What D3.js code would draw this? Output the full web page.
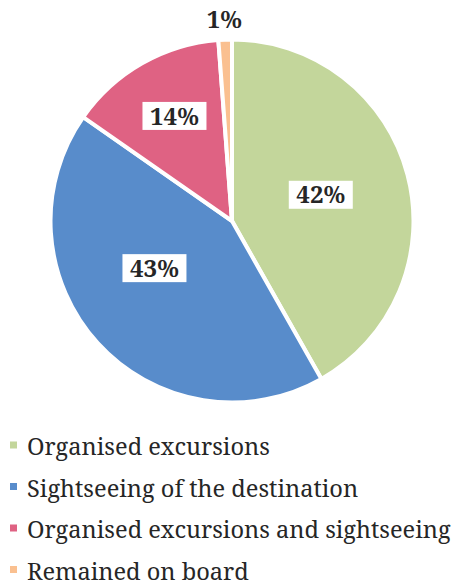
<!DOCTYPE html>
<html lang="en">
<head>
<meta charset="UTF-8">
<title>Shore activities pie</title>
<script src="https://d3js.org/d3.v7.min.js"></script>
<style>
  body { margin: 0; background: #fff; }
</style>
</head>
<body>
<div class="chart"></div>
<script>
// data
var categories = ["Organised excursions", "Sightseeing of the destination",
                  "Organised excursions and sightseeing", "Remained on board"];
var shares = [41.8, 42.9, 14.1, 1.2];
var labels = ["42%", "43%", "14%", "1%"];
var colours = ["#C3D69B", "#588CCB", "#DF6283", "#FAC090"];

var width = 457, height = 587;
var cx = 232, cy = 221, radius = 181.5;
var serif = "'Noto Serif'";

var svg = d3.select(".chart").append("svg")
    .attr("width", width)
    .attr("height", height);

var pie = d3.pie().sort(null).value(d => d);
var arcs = pie(shares);

var arc = d3.arc().innerRadius(0).outerRadius(radius);

var g = svg.append("g")
    .attr("transform", "translate(" + cx + "," + cy + ")");

g.selectAll("path")
    .data(arcs)
  .enter().append("path")
    .attr("d", arc)
    .style("fill", (d, i) => colours[i])
    .style("stroke", "#fff")
    .style("stroke-width", 4)
    .style("stroke-linejoin", "miter");

// label placement (fraction of radius, angle nudge in degrees) - like Excel's best fit
var place = [{r: 0.51, da: -1.7}, {r: 0.5, da: 11}, {r: 0.66, da: 1}, {r: 1.11, da: 0}];

var lab = g.selectAll(".lab")
    .data(arcs)
  .enter().append("g")
    .attr("class", "lab")
    .attr("transform", (d, i) => {
      var a = (d.startAngle + d.endAngle) / 2 + place[i].da * Math.PI / 180;
      var rr = radius * place[i].r;
      return "translate(" + (rr * Math.sin(a)) + "," + (-rr * Math.cos(a)) + ")";
    });

// white box behind the inside labels
lab.filter((d, i) => place[i].r < 1)
  .append("rect")
    .attr("x", -32)
    .attr("y", -14)
    .attr("width", 64)
    .attr("height", 28)
    .style("fill", "#fff");

lab.append("text")
    .attr("text-anchor", "middle")
    .attr("dy", "0.36em")
    .style("font-family", serif)
    .style("font-size", "24px")
    .style("font-weight", "bold")
    .style("fill", "#262626")
    .text((d, i) => labels[i]);

// legend
var L = svg.selectAll(".legend")
    .data(categories)
  .enter().append("g")
    .attr("class", "legend")
    .attr("transform", (d, i) => "translate(0," + (455 + i * 41.5) + ")");

L.append("rect")
    .attr("x", 10)
    .attr("y", -13.5)
    .attr("width", 7)
    .attr("height", 7)
    .style("fill", (d, i) => colours[i]);

L.append("text")
    .attr("x", 27)
    .attr("y", 0)
    .style("font-family", serif)
    .style("font-size", "23.6px")
    .style("fill", "#262626")
    .text(d => d);
</script>
</body>
</html>
